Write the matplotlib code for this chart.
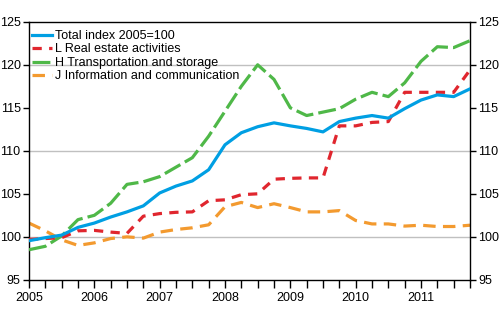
import numpy as np
import matplotlib
matplotlib.use("Agg")
import matplotlib.pyplot as plt

plt.rcParams['font.family'] = ['Liberation Sans', 'DejaVu Sans']

# Neljännesvuosittaiset indeksit, 2005Q1 - 2011Q4
years = [2005, 2006, 2007, 2008, 2009, 2010, 2011]
n_quarters = 28

total = [99.55, 99.9, 100.2, 101.1, 101.6, 102.3, 102.9, 103.6,
         105.1, 105.9, 106.5, 107.8, 110.7, 112.1, 112.8, 113.25,
         112.9, 112.6, 112.2, 113.4, 113.8, 114.1, 113.8, 114.9,
         115.9, 116.5, 116.3, 117.2]
real_estate = [99.7, 99.8, 99.9, 100.7, 100.75, 100.55, 100.4, 102.4,
               102.7, 102.85, 102.9, 104.2, 104.3, 104.9, 105.0, 106.7,
               106.8, 106.85, 106.85, 112.9, 112.9, 113.3, 113.4, 116.8,
               116.8, 116.8, 116.8, 119.4]
transport = [98.5, 98.9, 100.1, 102.0, 102.5, 103.9, 106.1, 106.4,
             107.0, 108.1, 109.2, 111.7, 114.6, 117.5, 120.0, 118.3,
             115.0, 114.1, 114.5, 114.9, 116.0, 116.8, 116.3, 117.9,
             120.4, 122.1, 122.0, 122.8]
info_comm = [101.6, 100.7, 99.65, 99.0, 99.3, 99.8, 100.0, 99.85,
             100.55, 100.85, 101.05, 101.4, 103.5, 104.0, 103.4, 103.85,
             103.4, 102.9, 102.9, 103.05, 101.9, 101.5, 101.5, 101.25,
             101.35, 101.2, 101.2, 101.35]

labels = ["Total index 2005=100", "L Real estate activities",
          "H Transportation and storage", "J Information and communication"]

x = 2005 + 0.25 * np.arange(n_quarters)

fig = plt.figure(figsize=(5.0, 3.3), dpi=100)
ax = fig.add_axes([0.058, 0.152, 0.882, 0.782])

for g in [100, 110, 120]:
    ax.axhline(g, color="#c0c0c0", lw=1.0, zorder=1)

lw = 2.3
ax.plot(x, total, color="#009fe3", lw=lw, label=labels[0], zorder=5)
ax.plot(x, real_estate, color="#e0262e", lw=lw, dashes=(2.9, 2.3), label=labels[1], zorder=4)
ax.plot(x, transport, color="#4fb848", lw=lw, dashes=(5.6, 1.6), label=labels[2], zorder=3)
ax.plot(x, info_comm, color="#f39a2f", lw=lw, dashes=(3.9, 2.3), label=labels[3], zorder=2)

ax.set_xlim(2005, 2005 + 0.25 * (n_quarters - 1))
ax.set_ylim(95, 125)
ax.set_yticks(np.arange(95, 126, 5))
ax.set_xticks(x)
ax.set_xticklabels([str(int(v)) if v == int(v) else "" for v in x])

ax.tick_params(axis="y", which="both", left=True, right=True, labelleft=True,
               labelright=True, direction="out", length=4, width=1,
               labelsize=9, pad=2)
ax.tick_params(axis="x", direction="out", length=6, width=1, labelsize=9, pad=3)
for s in ax.spines.values():
    s.set_color("black")
    s.set_linewidth(1)

leg = ax.legend(loc="upper left", bbox_to_anchor=(0.0, 0.978), frameon=False,
                fontsize=9, handlelength=1.65, handletextpad=0.25,
                labelspacing=0.12, borderpad=0.1, borderaxespad=0.1)

fig.savefig("out.png", dpi=100)
